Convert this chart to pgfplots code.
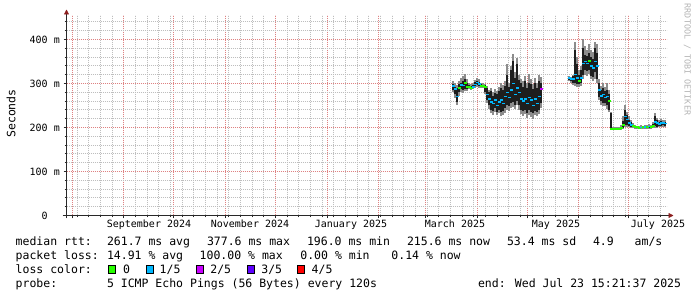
\documentclass[border=0pt]{standalone}
\usepackage{fontspec}
\setmainfont{DejaVu Sans Mono}
\setmonofont{DejaVu Sans Mono}
\usepackage{pgfplots}
\pgfplotsset{compat=1.18}
\usepackage{pgfplotstable}
\usetikzlibrary{arrows.meta}
\definecolor{majgrid}{RGB}{222,130,130}
\definecolor{mingrid}{RGB}{190,190,190}
\definecolor{arrowred}{RGB}{140,30,30}
\definecolor{axisline}{RGB}{40,40,40}
\definecolor{smokegray}{RGB}{140,140,140}
\definecolor{smokedark}{RGB}{30,30,30}
\definecolor{lc0}{RGB}{38,255,0}
\definecolor{lc1}{RGB}{0,184,255}
\definecolor{lc2}{RGB}{200,0,255}
\definecolor{lc3}{RGB}{94,0,255}
\definecolor{lc4}{RGB}{255,0,0}
\definecolor{wm}{RGB}{180,180,180}
\newcommand{\axfont}{\fontsize{10bp}{12bp}\selectfont}
\newcommand{\lgfont}{\fontsize{11.5bp}{13bp}\selectfont}

% x = days since 1 Sep 2024, y = milliseconds
% gl/gh: outer smoke, dl/dh: inner smoke, med: median, c: lost pings of 5
\pgfplotstableread{
x gl dl med dh gh c
197.82 280 285 294 298 305 1
199.02 268 275 288 293 300 1
200.22 252 258 270 290 296 1
201.42 272 280 290 298 305 0
202.62 280 288 296 302 312 1
203.82 278 285 295 305 318 1
205.02 282 288 300 310 322 0
206.22 284 287 292 300 310 0
207.42 287 289 292 296 300 0
208.62 286 288 290 295 298 0
209.82 287 289 292 296 300 1
211.02 290 294 298 303 308 1
212.22 292 296 302 306 312 1
213.42 290 294 299 304 310 1
214.62 290 292 295 298 302 0
215.82 290 292 295 297 300 0
217.02 275 280 292 296 298 0
218.22 255 262 275 290 295 1
219.42 242 250 265 280 285 1
220.62 232 240 258 282 290 1
221.82 228 238 255 272 280 1
223.02 236 245 262 278 288 1
224.22 228 236 250 275 282 1
225.42 232 240 258 282 292 1
226.62 226 235 262 290 300 1
227.82 228 238 255 285 296 1
229.02 234 245 270 295 305 1
230.22 240 250 280 320 345 1
231.42 238 248 268 292 300 1
232.62 244 255 285 330 340 1
233.82 246 258 300 350 368 1
235.02 243 252 275 312 325 1
236.22 250 260 290 345 358 1
237.42 240 250 280 308 320 1
238.62 230 240 265 300 310 1
239.82 226 238 260 292 305 1
241.02 230 240 265 305 318 1
242.22 222 232 255 290 300 1
243.42 228 240 268 300 322 1
244.62 224 235 262 298 310 1
245.82 220 232 250 288 298 1
247.02 228 238 265 300 312 1
248.22 225 235 255 290 300 1
249.42 230 240 270 305 320 1
250.62 245 255 288 300 315 2
}\segA
\pgfplotstableread{
x gl dl med dh gh c
267.42 305 308 312 315 318 1
268.62 302 306 310 312 315 1
269.82 296 302 310 316 320 1
271.02 294 300 320 375 395 1
272.22 292 298 312 345 360 1
273.42 292 298 306 320 330 0
274.62 295 300 312 330 340 1
275.82 310 320 345 380 400 1
277.02 320 330 350 365 385 1
278.22 318 328 345 362 375 1
279.42 322 330 352 370 390 0
280.62 310 318 340 360 375 1
281.82 305 315 335 355 372 1
283.02 310 325 350 380 395 1
284.22 300 310 340 370 390 1
285.42 262 270 285 300 310 1
286.62 252 260 272 285 295 1
287.82 248 255 275 290 300 1
289.02 248 255 268 282 292 1
290.22 242 250 270 285 300 1
291.42 235 240 260 275 285 0
292.62 195 196 197 232 236 0
293.82 195 196 197 198 200 0
295.02 195 196 197 198 200 0
296.22 195 196 197 198 200 0
297.42 195 196 197 198 200 0
298.62 195 196 198 200 205 0
299.82 196 198 205 215 225 0
301.02 200 205 225 240 250 1
302.22 200 205 218 228 235 1
303.42 200 203 210 218 225 1
304.62 199 202 206 212 218 1
305.82 198 200 203 206 210 0
307.02 197 199 201 203 206 0
308.22 197 198 200 202 204 0
309.42 196 197 199 201 203 0
310.62 196 198 200 202 205 1
311.82 197 198 200 202 204 0
313.02 197 199 201 203 206 1
314.22 197 198 200 202 205 0
315.42 197 199 202 204 208 1
316.62 197 199 201 203 206 0
317.82 198 200 204 208 212 0
319.02 199 203 212 225 232 1
320.22 199 202 210 216 222 1
321.42 200 203 208 213 218 1
322.62 200 204 210 214 220 1
323.82 201 205 210 213 218 1
325.02 200 204 209 212 216 1
}\segB

\pgfplotsset{
  smoke/.style={draw=none, mark=none, mark size=0pt, forget plot,
    error bars/.cd, y dir=plus, y explicit, error mark=none,
    error bar style={draw=#1, solid, line width=2bp}},
  median/.style={scatter, only marks, scatter src=explicit symbolic, mark size=1.05bp,
    forget plot, on layer=axis foreground,
    scatter/classes={0={mark=-,lc0,line width=2bp},
                     1={mark=-,lc1,line width=1.5bp},
                     2={mark=-,lc2,line width=1.5bp}}},
}

\begin{document}
\begin{tikzpicture}
\path (0,0) rectangle (697bp,297bp);
\begin{axis}[
  set layers,
  at={(66.5bp,81.5bp)}, anchor=south west,
  scale only axis, width=600bp, height=200bp,
  xmin=-34.36, xmax=325.64, ymin=0, ymax=454.5,
  axis x line=bottom, axis y line=left,
  axis line style={axisline, line width=0.8bp},
  x axis line style={-{Triangle[length=5bp,width=5bp,color=arrowred]}, shorten >=-7bp, shorten <=-4bp},
  y axis line style={-{Triangle[length=5bp,width=5bp,color=arrowred]}, shorten >=-6bp, shorten <=-3bp},
  xtick={-31,0,30,61,91,122,153,181,212,242,273,303},
  xticklabels={},
  minor xtick={-28,-21,...,322},
  extra x ticks={15.14,75.74,136.34,198.74,259.34,320.54},
  extra x tick labels={September 2024,November 2024,January 2025,March 2025,May 2025,July 2025},
  extra x tick style={grid=none, major tick length=0pt,
     tick label style={font=\axfont, anchor=base, yshift=-12.5bp, inner sep=0pt}},
  ytick={0,100,200,300,400},
  yticklabels={0\phantom{\ m},100 m,200 m,300 m,400 m},
  minor ytick={20,40,60,80,120,140,160,180,220,240,260,280,320,340,360,380,420,440},
  yticklabel style={font=\axfont, anchor=east, inner sep=0pt, xshift=-3.5bp},
  /pgf/number format/assume math mode=true,
  grid=both,
  major grid style={majgrid, line width=0.9bp, dash pattern=on 1bp off 1bp},
  minor grid style={mingrid, line width=0.9bp, dash pattern=on 1bp off 1bp},
  tick align=outside,
  major tick length=3bp, minor tick length=2bp,
  tick style={axisline, line width=0.8bp},
  clip=true,
]
% outer (light) smoke
\addplot[smoke=smokegray] table[x=x, y=gl, y error expr=\thisrow{gh}-\thisrow{gl}]{\segA};
\addplot[smoke=smokegray] table[x=x, y=gl, y error expr=\thisrow{gh}-\thisrow{gl}]{\segB};
% inner (dark) smoke
\addplot[smoke=smokedark] table[x=x, y=dl, y error expr=\thisrow{dh}-\thisrow{dl}]{\segA};
\addplot[smoke=smokedark] table[x=x, y=dl, y error expr=\thisrow{dh}-\thisrow{dl}]{\segB};
% medians coloured by loss (0, 1/5, 2/5 lost)
\addplot[median] table[x=x,y=med,meta=c]{\segA};
\addplot[median] table[x=x,y=med,meta=c]{\segB};
\end{axis}
% y axis title
\node[rotate=90, font=\lgfont, inner sep=0pt] at (11bp,183.5bp) {Seconds};
% watermark
\node[rotate=-90, font=\fontsize{8.4bp}{10bp}\selectfont, text=wm, inner sep=0pt] at (687.3bp,237.5bp) {RRDTOOL / TOBI OETIKER};
% legend
\begin{scope}[every node/.style={font=\lgfont, anchor=base west, inner sep=0pt}]
\node at (15.5bp,51bp) {median rtt:};
\node at (106.8bp,51bp) {261.7 ms avg};
\node at (206.8bp,51bp) {377.6 ms max};
\node at (306.8bp,51bp) {196.0 ms min};
\node at (406.8bp,51bp) {215.6 ms now};
\node at (506.8bp,51bp) {53.4 ms sd};
\node at (592.8bp,51bp) {4.9};
\node at (634.5bp,51bp) {am/s};
\node at (15.5bp,37.5bp) {packet loss:};
\node at (106.8bp,37.5bp) {14.91 \% avg};
\node at (199.5bp,37.5bp) {100.00 \% max};
\node at (300.2bp,37.5bp) {0.00 \% min};
\node at (391.2bp,37.5bp) {0.14 \% now};
\node at (15.5bp,24bp) {loss color:};
\node at (122.8bp,24bp) {0};
\node at (159.5bp,24bp) {1/5};
\node at (210.2bp,24bp) {2/5};
\node at (261.2bp,24bp) {3/5};
\node at (311.5bp,24bp) {4/5};
\node at (15.5bp,10bp) {probe:};
\node at (106.8bp,10bp) {5 ICMP Echo Pings (56 Bytes) every 120s};
\node at (477.8bp,10bp) {end: Wed Jul 23 15:21:37 2025};
\end{scope}
\draw[black, line width=0.8bp, fill=lc0] (108.4bp,23.9bp) rectangle (115.6bp,31.1bp);
\draw[black, line width=0.8bp, fill=lc1] (146.4bp,23.9bp) rectangle (153.6bp,31.1bp);
\draw[black, line width=0.8bp, fill=lc2] (196.6bp,23.9bp) rectangle (203.8bp,31.1bp);
\draw[black, line width=0.8bp, fill=lc3] (247.2bp,23.9bp) rectangle (254.4bp,31.1bp);
\draw[black, line width=0.8bp, fill=lc4] (297.4bp,23.9bp) rectangle (304.6bp,31.1bp);
\end{tikzpicture}
\end{document}
